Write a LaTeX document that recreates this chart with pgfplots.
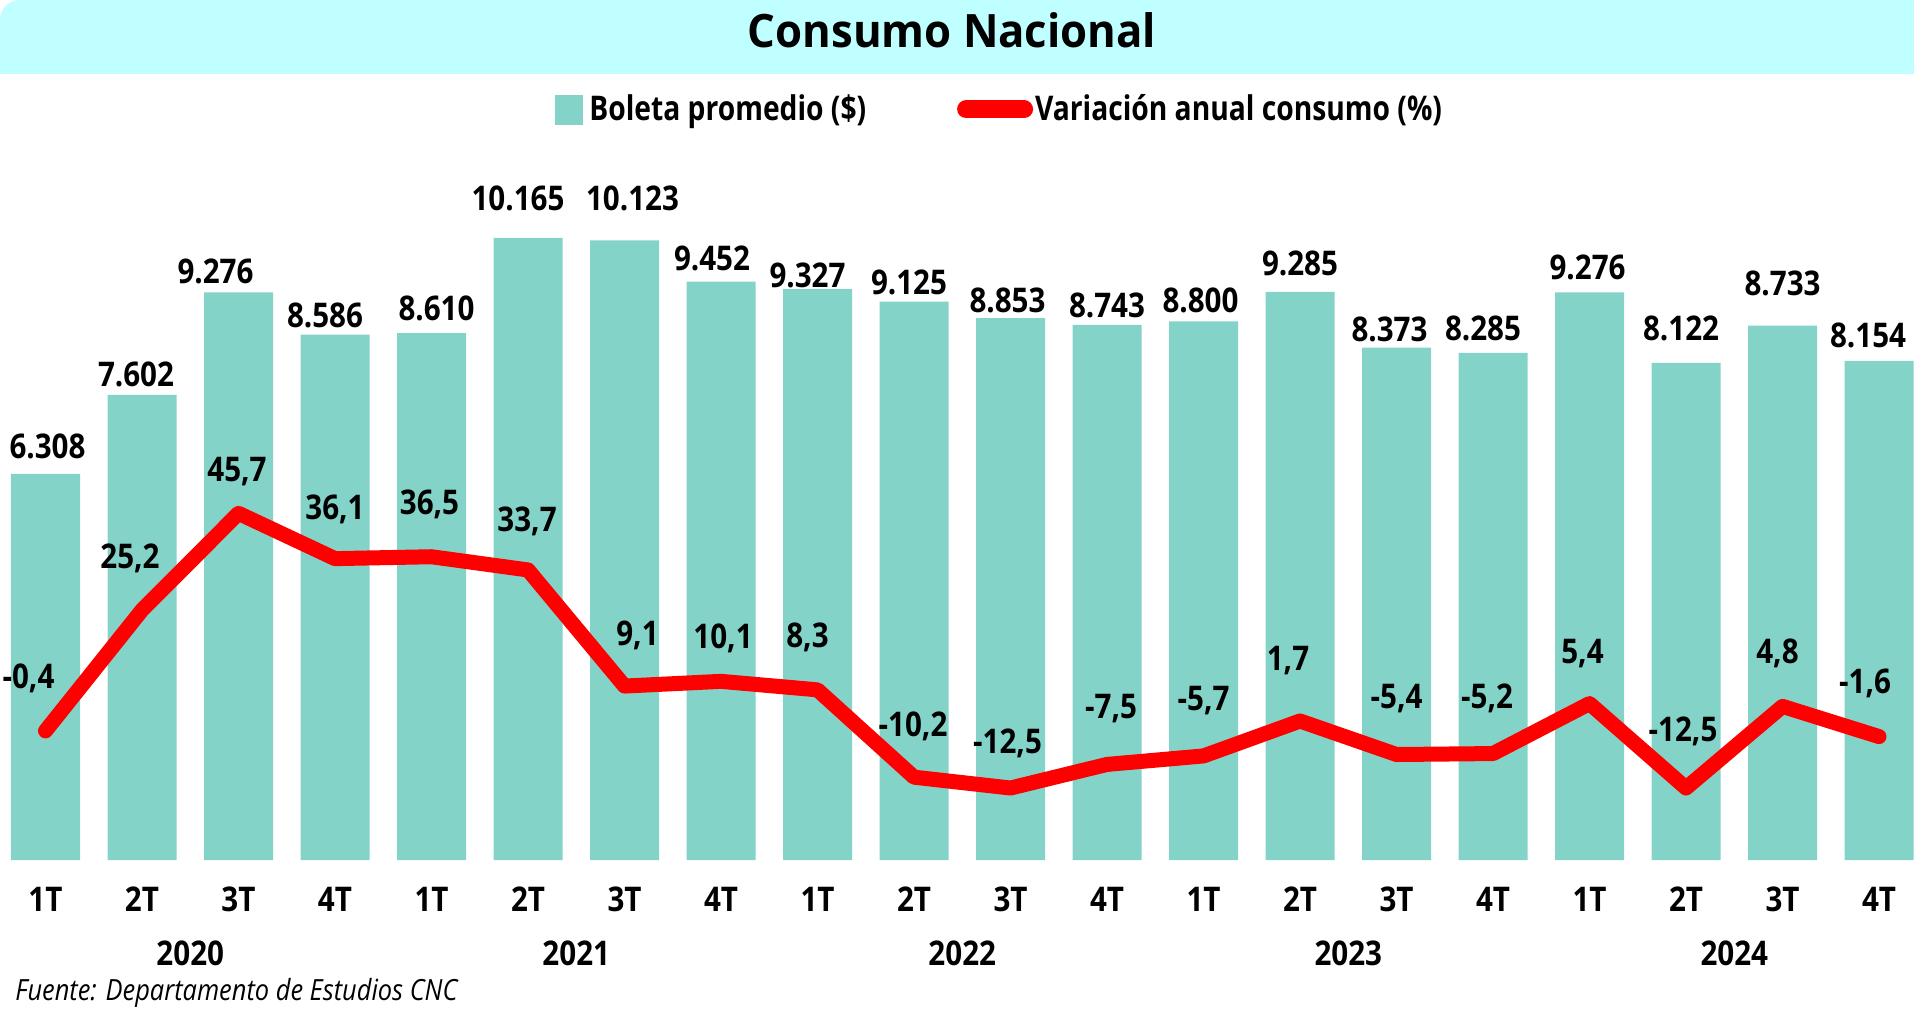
\documentclass[border=0pt]{standalone}
\usepackage{fontspec}
\setmainfont{Open Sans}[FakeStretch=0.87]
\newfontfamily\titlefont{Open Sans}[FakeStretch=0.95]
\newfontfamily\legfont{Open Sans}[FakeStretch=0.83]
\usepackage{pgfplots}
\usepackage{pgfplotstable}
\pgfplotsset{compat=1.18}
\definecolor{barcol}{RGB}{132,211,201}
\definecolor{bandcol}{RGB}{192,255,255}
\definecolor{linecol}{RGB}{255,0,0}
\newcommand\lbl{\fontsize{17}{20}\selectfont\bfseries}
\pgfplotstableread{
x b bl bdx bdy v vl vdx vdy
0 6308 6.308 1 13.6 -0.4 -0,4 -8.5 26.5
1 7602 7.602 -3 10 25.2 25,2 -6 26
2 9276 9.276 -11.5 10.6 45.7 45,7 -0.75 21
3 8586 8.586 -5 9.8 36.1 36,1 0 24.5
4 8610 8.610 2.5 12.2 36.5 36,5 -1 26
5 10165 10.165 -5 20 33.7 33,7 -0.5 24.5
6 10123 10.123 4 20.8 9.1 9,1 6.5 25.5
7 9452 9.452 -4.5 11.4 10.1 10,1 1 21.5
8 9327 9.327 -5 6.7 8.3 8,3 -5 26
9 9125 9.125 -2.5 9.8 -10.2 -10,2 -0.5 25.5
10 8853 8.853 -1.5 9 -12.5 -12,5 -1.5 22.5
11 8743 8.743 0 9.9 -7.5 -7,5 2 28
12 8800 8.800 -1.5 10.6 -5.7 -5,7 0 27.5
13 9285 9.285 0 14 1.7 1,7 -6 30
14 8373 8.373 -3.5 9 -5.4 -5,4 0 28.2
15 8285 8.285 -5 12.5 -5.2 -5,2 -3 27.8
16 9276 9.276 -1 12.5 5.4 5,4 -3.5 25.2
17 8122 8.122 -2.5 17.5 -12.5 -12,5 -1.5 28.5
18 8733 8.733 0 21 4.8 4,8 -2.5 26.5
19 8154 8.154 -5.5 13 -1.6 -1,6 -7 26.8
}\datatab
\begin{document}
\begin{tikzpicture}
\path[use as bounding box] (0,0) rectangle (957pt,504.5pt);
\fill[bandcol] (0pt,467.5pt) -- (0pt,494.5pt) arc[start angle=180,end angle=90,radius=10pt] -- (957pt,504.5pt) -- (957pt,467.5pt) -- cycle;
\node[font=\fontsize{23}{27}\selectfont\titlefont\bfseries, anchor=base, inner sep=0pt] at (476pt,480.5pt) {Consumo Nacional};
\begin{axis}[at={(0pt,74.5pt)}, anchor=south west, scale only axis,
  width=957pt, height=367.2pt,
  xmin=-0.4715, xmax=19.3627, ymin=0, ymax=12000, clip=false,
  axis line style={draw=none}, tick style={draw=none}, ytick=\empty,
  xtick={0,...,19},
  xticklabels={1T,2T,3T,4T,1T,2T,3T,4T,1T,2T,3T,4T,1T,2T,3T,4T,1T,2T,3T,4T},
  xticklabel style={font=\lbl, anchor=center, inner sep=0pt, yshift=-19.75pt},
  extra x ticks={1.5,5.5,9.5,13.5,17.5},
  extra x tick labels={2020,2021,2022,2023,2024},
  extra x tick style={tick style={draw=none}, xticklabel style={yshift=-26.75pt}},
]
\addplot[ybar, bar width=34.5pt, fill=barcol, draw=none,
  nodes near coords, point meta=explicit symbolic,
  visualization depends on={\thisrow{bdx} \as \bardx},
  visualization depends on={\thisrow{bdy} \as \bardy},
  every node near coord/.append style={font=\lbl, text=black, anchor=center, inner sep=0pt, xshift=\bardx pt, yshift=\bardy pt}]
  table[x=x, y=b, meta=bl]{\datatab};
\end{axis}
\begin{axis}[at={(0pt,74.5pt)}, anchor=south west, scale only axis,
  width=957pt, height=367.2pt,
  xmin=-0.4715, xmax=19.3627, ymin=-27.75, ymax=127.84, clip=false,
  hide axis,
  legend columns=2,
  legend style={draw=none, fill=none, at={(0.28997,1.0212)}, anchor=west,
    font=\fontsize{17}{20}\selectfont\legfont\bfseries, inner sep=0pt, outer sep=0pt, nodes={inner sep=0pt},
    /tikz/every even column/.append style={column sep=41.7pt},
    /tikz/every odd column/.append style={column sep=-2.8pt}},
]
\addlegendimage{legend image code/.code={\fill[barcol] (0pt,-7.75pt) rectangle (13.5pt,6.75pt); \path (0pt,0pt) (19.6pt,0pt);}}
\addlegendentry{Boleta promedio (\$)}
\addplot[linecol, line width=7.5pt, line join=round, line cap=round, mark=none,
  nodes near coords, point meta=explicit symbolic,
  visualization depends on={\thisrow{vdx} \as \vardx},
  visualization depends on={\thisrow{vdy} \as \vardy},
  every node near coord/.append style={font=\lbl, text=black, anchor=center, inner sep=0pt, xshift=\vardx pt, yshift=\vardy pt},
  legend image code/.code={\draw[linecol, line width=9pt, line cap=round] (4.5pt,0pt) -- (33.5pt,0pt); \path (0pt,0pt) (38pt,0pt);}]
  table[x=x, y=v, meta=vl]{\datatab};
\addlegendentry{Variación anual consumo (\%)}
\end{axis}
\node[anchor=base west, font=\fontsize{14.6}{17}\selectfont\itshape, inner sep=0pt] at (7.5pt,4.5pt) {Fuente: Departamento de Estudios CNC};
\end{tikzpicture}
\end{document}
